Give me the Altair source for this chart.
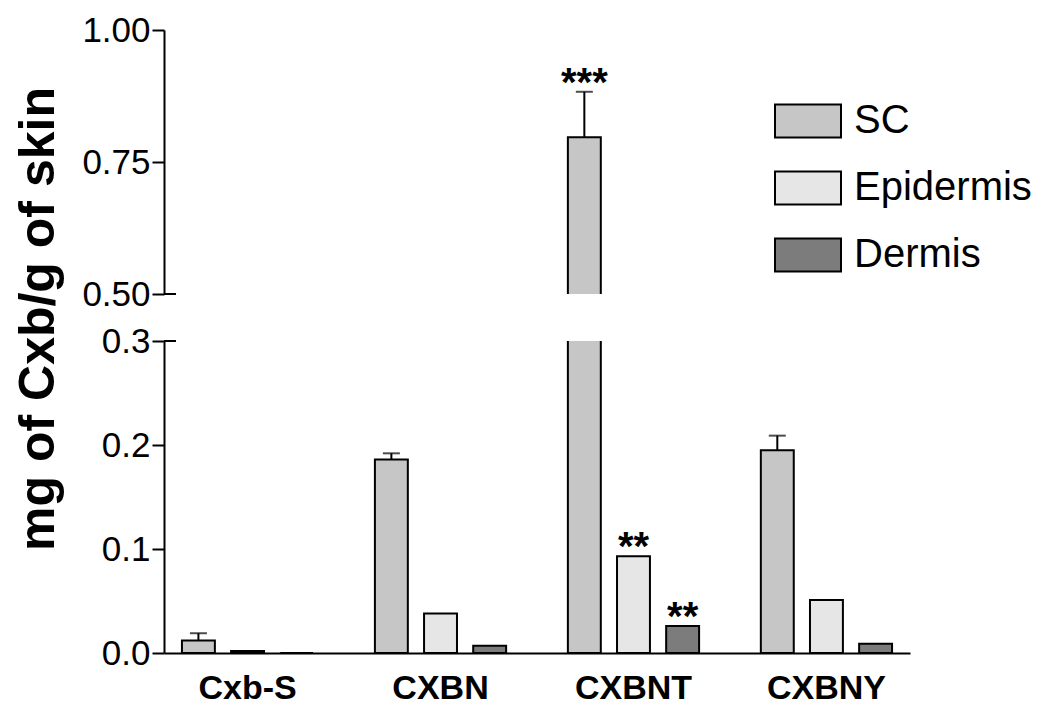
import altair as alt
import pandas as pd

groups = ["Cxb-S", "CXBN", "CXBNT", "CXBNY"]
series = ["SC", "Epidermis", "Dermis"]

sc_vals = [0.012, 0.186, 0.797, 0.195]
sc_err = [0.007, 0.006, 0.086, 0.014]
epi_vals = [0.002, 0.038, 0.093, 0.051]
epi_err = [0.0, 0.0, 0.0, 0.0]
derm_vals = [0.0, 0.007, 0.026, 0.009]
derm_err = [0.0, 0.0, 0.0, 0.0]
sc_marks = ["", "", "***", ""]
epi_marks = ["", "", "**", ""]
derm_marks = ["", "", "**", ""]

fills = ["#c6c6c6", "#e6e6e6", "#7c7c7c"]
FONT = "Liberation Sans"

rows = []
for s, vals, errs, marks in [
    ("SC", sc_vals, sc_err, sc_marks),
    ("Epidermis", epi_vals, epi_err, epi_marks),
    ("Dermis", derm_vals, derm_err, derm_marks),
]:
    for g, v, e, m in zip(groups, vals, errs, marks):
        rows.append({"group": g, "series": s, "value": v, "err": e, "star": m})
df = pd.DataFrame(rows)


def panel(domain, ticks, fmt, height, show_x, break_at):
    xaxis = (
        alt.Axis(labelFontSize=34, labelFontWeight="bold", labelFont=FONT,
                 labelColor="black", ticks=False, labelPadding=18,
                 domainColor="black", domainWidth=2, labelAngle=0)
        if show_x else None
    )
    x = alt.X("group:N", scale=alt.Scale(domain=groups, paddingInner=0.32,
                                         paddingOuter=0.093),
              axis=xaxis, title=None)
    xo = alt.XOffset("series:N", scale=alt.Scale(domain=series, paddingInner=0.33,
                                                 paddingOuter=0))
    yscale = alt.Scale(domain=domain, nice=False, zero=False)
    yaxis = alt.Axis(values=ticks, format=fmt, grid=False)

    def Y(field):
        return alt.Y(field, scale=yscale, axis=yaxis, title=None)

    base = alt.Chart(df)
    bars = base.mark_bar(stroke="black", strokeWidth=2, clip=True).encode(
        x=x, xOffset=xo, y=Y("value:Q"),
        color=alt.Color("series:N", scale=alt.Scale(domain=series, range=fills),
                        title=None),
    )
    eb = base.transform_filter("datum.err > 0").transform_calculate(
        top="datum.value + datum.err")
    rule = eb.mark_rule(color="black", strokeWidth=2, clip=True).encode(
        x=x, xOffset=xo, y=Y("value:Q"), y2="top:Q")
    cap = eb.mark_tick(orient="horizontal", size=17, thickness=2, color="black",
                       clip=True).encode(x=x, xOffset=xo, y=Y("top:Q"))
    stars = base.transform_filter("datum.star != ''").transform_calculate(
        top="datum.value + datum.err").transform_filter(
        f"datum.top >= {domain[0]} && datum.top <= {domain[1]}").mark_text(
        fontSize=40, fontWeight="bold", font=FONT, baseline="alphabetic", dy=4,
        color="black", clip=True).encode(x=x, xOffset=xo, y=Y("top:Q"), text="star:N")
    brk = base.mark_rule(color="black", strokeWidth=2).encode(
        y=alt.Y(datum=break_at, scale=yscale, axis=yaxis, title=None),
        x=alt.value(0), x2=alt.value(12))
    return alt.layer(bars, rule, cap, stars, brk).properties(width=746, height=height)


upper = panel([0.5, 1.0], [0.5, 0.75, 1.0], ".2f", 264, False, 0.5)
lower = panel([0.0, 0.3], [0.0, 0.1, 0.2, 0.3], ".1f", 312, True, 0.3)

chart = alt.vconcat(upper, lower, spacing=47, bounds="flush").resolve_scale(
    y="independent"
).properties(
    title=alt.TitleParams("mg of Cxb/g of skin", orient="left", anchor="middle",
                          fontSize=50, fontWeight="bold", font=FONT, color="black",
                          offset=18, dx=40)
).configure_view(stroke=None).configure_axis(
    domainColor="black", domainWidth=2, tickColor="black", tickWidth=2,
    tickSize=12, labelFontSize=35, labelFont=FONT, labelColor="black",
    labelPadding=2, grid=False
).configure_legend(
    orient="none", legendX=610, legendY=57, padding=0,
    symbolType="M-1,-0.5H1V0.5H-1Z", symbolSize=4356,
    symbolStrokeColor="black", symbolStrokeWidth=2, symbolOpacity=1,
    labelFontSize=40, labelFont=FONT, labelColor="black", labelOffset=12,
    labelLimit=400, rowPadding=12
)

chart.save("out.html", embed_options={"renderer": "svg", "actions": False})
